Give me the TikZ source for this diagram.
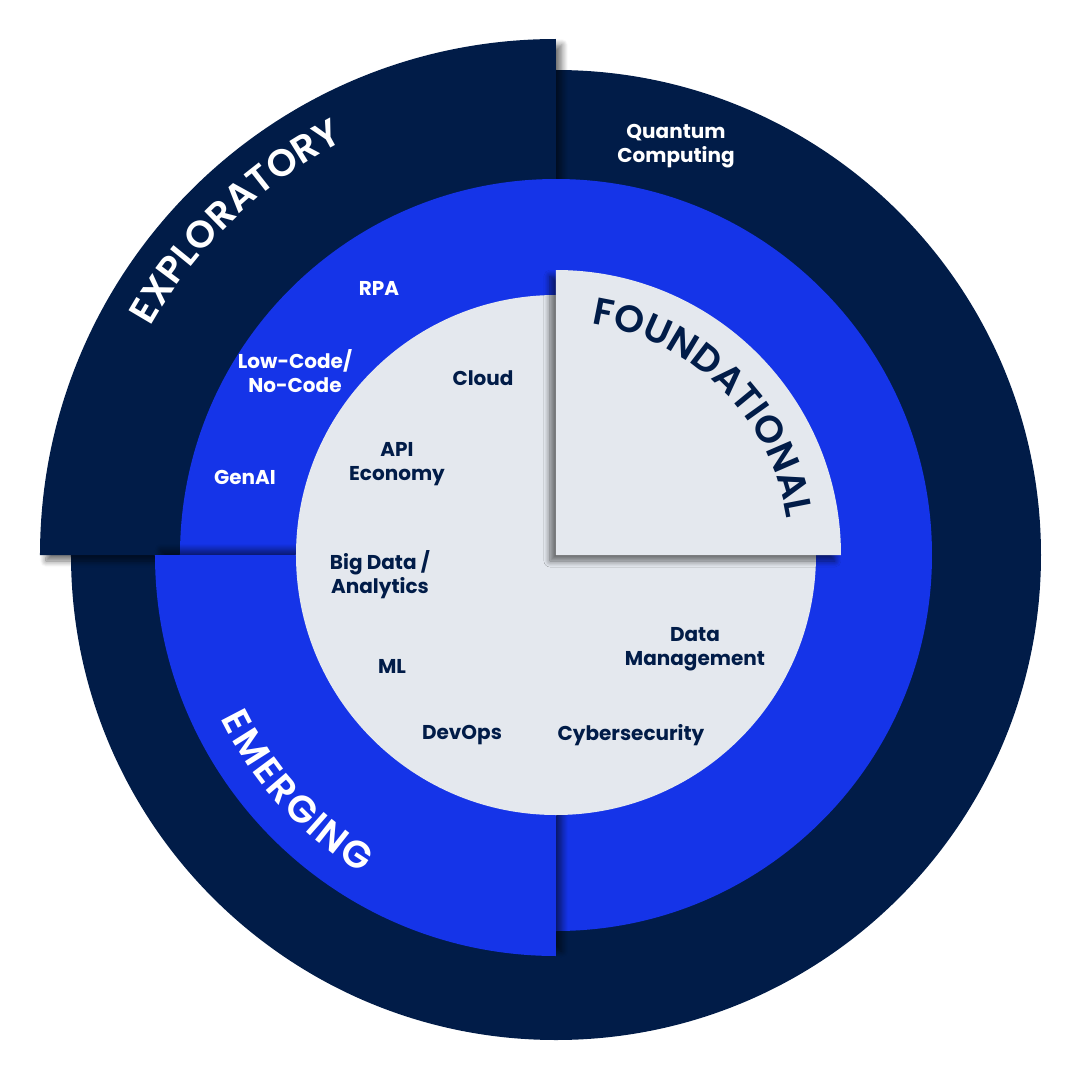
\documentclass[tikz,border=0pt]{standalone}
\usepackage{fontspec}
\setmainfont{Poppins}
\newfontfamily\ringfont{Poppins SemiBold}
\usepackage{xcolor}
\usetikzlibrary{decorations.text, shadows.blur}

\definecolor{navy}{RGB}{1,28,72}
\definecolor{royal}{RGB}{21,52,232}
\definecolor{mist}{RGB}{228,232,238}

\tikzset{
    tech/.style={font=\bfseries\fontsize{20}{24}\selectfont, align=center, text=navy},
    techw/.style={tech, text=white},
    lifted/.style 2 args={blur shadow={shadow xshift=#1, shadow yshift=#2, shadow blur radius=6pt, shadow blur steps=8, shadow opacity=55}},
    ringtext/.style 2 args={decorate, decoration={text effects along path, text={#2},
        text effects/.cd, text along path, fit text to path,
        characters={font=\ringfont\fontsize{38}{38}\selectfont, text=#1, inner sep=0pt}}}
}

\begin{document}
\begin{tikzpicture}[x=1pt, y=1pt]
    \useasboundingbox (-556,-525) rectangle (524,555);

    % Outer ring and the raised exploratory quarter
    \fill[navy] (0,0) circle[radius=485pt];
    \fill[navy, lifted={6pt}{-6pt}] (0,0) -- (90:516pt) arc[start angle=90, end angle=180, radius=516pt] -- cycle;

    % Middle ring and the raised emerging quarter
    \fill[royal] (0,0) circle[radius=376pt];
    \fill[royal, lifted={6pt}{5pt}] (0,0) -- (180:401pt) arc[start angle=180, end angle=270, radius=401pt] -- cycle;

    % Core and the raised foundational quarter
    \fill[mist] (0,0) circle[radius=260pt];
    \fill[mist, lifted={-6pt}{-6pt}] (0,0) -- (0:285pt) arc[start angle=0, end angle=90, radius=285pt] -- cycle;

    % Ring titles
    \path[ringtext={white}{EXPLORATORY}] (150.6:465pt) arc[start angle=150.6, end angle=117.1, radius=465pt];
    \path[ringtext={navy}{FOUNDATIONAL}] (81.3:234pt) arc[start angle=81.3, end angle=9, radius=234pt];
    \path[ringtext={white}{EMERGING}] (206:373pt) arc[start angle=206, end angle=238.7, radius=373pt];

    % Technologies
    \node[techw] (quantum) at (120,409) {Quantum\\Computing};
    \node[techw] (rpa) at (-177,267) {RPA};
    \node[techw] (lowcode) at (-261,184) {Low-Code/\\No-Code};
    \node[techw] (genai) at (-311,78) {GenAI};
    \node[tech] (cloud) at (-73,177) {Cloud};
    \node[tech] (api) at (-159,91) {API\\Economy};
    \node[tech] (bigdata) at (-176,-20) {Big Data /\\Analytics};
    \node[tech] (ml) at (-164,-111) {ML};
    \node[tech] (devops) at (-94,-180) {DevOps};
    \node[tech] (cyber) at (75,-180) {Cybersecurity};
    \node[tech] (datamgmt) at (139,-94) {Data\\Management};
\end{tikzpicture}
\end{document}
